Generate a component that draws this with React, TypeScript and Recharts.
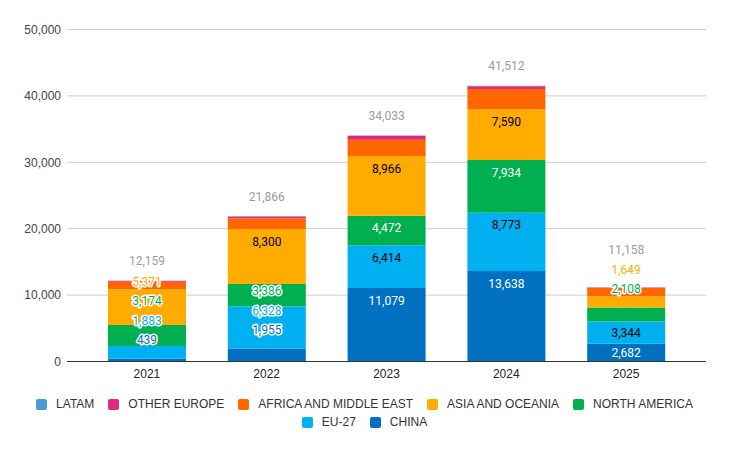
import React from 'react';
import { BarChart, Bar, XAxis, YAxis, CartesianGrid, LabelList } from 'recharts';

// --- data (bottom of stack first) ---
const YEARS = ['2021', '2022', '2023', '2024', '2025'];
const CHINA = [439, 1955, 11079, 13638, 2682];
const EU27 = [1883, 6328, 6414, 8773, 3344];
const NORTH_AMERICA = [3174, 3386, 4472, 7934, 2108];
const ASIA_OCEANIA = [5371, 8300, 8966, 7590, 1649];
const AFRICA_ME = [1130, 1600, 2450, 3100, 1300];
const OTHER_EUROPE = [150, 250, 600, 420, 60];
const LATAM = [12, 47, 52, 57, 15];
const Y_TICKS = [0, 10000, 20000, 30000, 40000, 50000];

const SERIES = [
  { key: 'china', name: 'CHINA', values: CHINA, color: '#0070c0', labelColor: '#ffffff', labeled: true },
  { key: 'eu27', name: 'EU-27', values: EU27, color: '#00b0f0', labelColor: '#000000', labeled: true },
  { key: 'northAmerica', name: 'NORTH AMERICA', values: NORTH_AMERICA, color: '#00b050', labelColor: '#ffffff', labeled: true },
  { key: 'asiaOceania', name: 'ASIA AND OCEANIA', values: ASIA_OCEANIA, color: '#ffab00', labelColor: '#000000', labeled: true },
  { key: 'africaMe', name: 'AFRICA AND MIDDLE EAST', values: AFRICA_ME, color: '#ff6600', labelColor: '#000000', labeled: false },
  { key: 'otherEurope', name: 'OTHER EUROPE', values: OTHER_EUROPE, color: '#e2287e', labelColor: '#000000', labeled: false },
  { key: 'latam', name: 'LATAM', values: LATAM, color: '#4a9bd9', labelColor: '#000000', labeled: false },
];

const data = YEARS.map((year, i) => {
  const row: any = { year };
  SERIES.forEach((s) => (row[s.key] = s.values[i]));
  row.total = SERIES.reduce((acc, s) => acc + s.values[i], 0);
  return row;
});

// --- layout ---
const W = 729;
const H = 451;
const MARGIN = { top: 29.5, right: 23, bottom: 59.5, left: 0 };
const X_AXIS_H = 30;
const Y_MAX = 50000;
const PLOT_BOTTOM = H - MARGIN.bottom - X_AXIS_H;
const PX_PER_UNIT = (PLOT_BOTTOM - MARGIN.top) / Y_MAX;

const fmt = (v: number) => v.toLocaleString('en-US');
const LABEL_FONT = 'Roboto, sans-serif';

// Sheets-style labels: inside end of the segment, pushed upward with an outline when they don't fit
const renderStackLabels = (props: any) => {
  const { x, width, index } = props;
  const cx = x + width / 2;
  let top = PLOT_BOTTOM;
  let prev = Infinity;
  const items: React.ReactNode[] = [];
  SERIES.forEach((s) => {
    const v = s.values[index];
    const h = v * PX_PER_UNIT;
    const segTop = top - h;
    if (s.labeled) {
      const fits = h >= 15;
      const normalY = segTop + Math.min(12.5, h / 2);
      let y: number;
      let displaced = false;
      if (fits && normalY <= prev - 19.5) {
        y = normalY;
      } else {
        y = Math.min(fits ? normalY : segTop - 18.5, prev - 19.5);
        displaced = true;
      }
      prev = y;
      items.push(
        <text
          key={s.key}
          x={cx}
          y={y}
          dy="0.35em"
          textAnchor="middle"
          fontFamily={LABEL_FONT}
          fontSize={12}
          fill={displaced ? s.color : s.labelColor}
          stroke={displaced ? '#ffffff' : 'none'}
          strokeWidth={displaced ? 3 : 0}
          strokeLinejoin="round"
          paintOrder="stroke"
        >
          {fmt(v)}
        </text>
      );
    }
    top = segTop;
  });
  const totalY = Math.min(top - 20, prev - 20);
  items.push(
    <text key="total" x={cx} y={totalY} dy="0.35em" textAnchor="middle" fontFamily={LABEL_FONT} fontSize={12} fill="#9a9a9a">
      {fmt(data[index].total)}
    </text>
  );
  return <g key={`labels-${index}`}>{items}</g>;
};

const LEGEND_ROWS = [
  ['latam', 'otherEurope', 'africaMe', 'asiaOceania', 'northAmerica'],
  ['eu27', 'china'],
];

const Legend: React.FC = () => (
  <div style={{ position: 'absolute', left: 0, top: 395, width: W, fontFamily: '"Liberation Sans", Arial, sans-serif', fontSize: 12, color: '#333' }}>
    {LEGEND_ROWS.map((row, r) => (
      <div key={r} style={{ display: 'flex', justifyContent: 'center', height: 18, alignItems: 'center' }}>
        {row.map((k) => {
          const s = SERIES.find((x) => x.key === k)!;
          return (
            <div key={k} style={{ display: 'flex', alignItems: 'center', margin: '0 7px' }}>
              <span style={{ width: 11, height: 11, borderRadius: 2, background: s.color, marginRight: 9, display: 'inline-block' }} />
              <span>{s.name}</span>
            </div>
          );
        })}
      </div>
    ))}
  </div>
);

export default function App() {
  return (
    <div style={{ position: 'absolute', left: 0, top: 0, width: W, height: H, background: '#fff' }}>
      <BarChart width={W} height={H} data={data} margin={MARGIN}>
        <CartesianGrid vertical={false} stroke="#cccccc" />
        <XAxis
          dataKey="year"
          height={X_AXIS_H}
          padding={{ left: 20, right: 20 }}
          tickLine={false}
          axisLine={{ stroke: '#333333' }}
          tick={{ fill: '#222222', fontSize: 12, fontFamily: '"Liberation Sans", Arial, sans-serif' }}
        />
        <YAxis
          width={67}
          domain={[0, Y_MAX]}
          ticks={Y_TICKS}
          tickFormatter={fmt}
          tickLine={false}
          axisLine={false}
          tickSize={4}
          tickMargin={2}
          tick={{ fill: '#444444', fontSize: 12, fontFamily: '"Liberation Sans", Arial, sans-serif' }}
        />
        {SERIES.map((s, i) => (
          <Bar key={s.key} dataKey={s.key} name={s.name} stackId="a" fill={s.color} barSize={78} isAnimationActive={false}>
            {i === SERIES.length - 1 && <LabelList dataKey={s.key} content={renderStackLabels} />}
          </Bar>
        ))}
      </BarChart>
      <Legend />
    </div>
  );
}
